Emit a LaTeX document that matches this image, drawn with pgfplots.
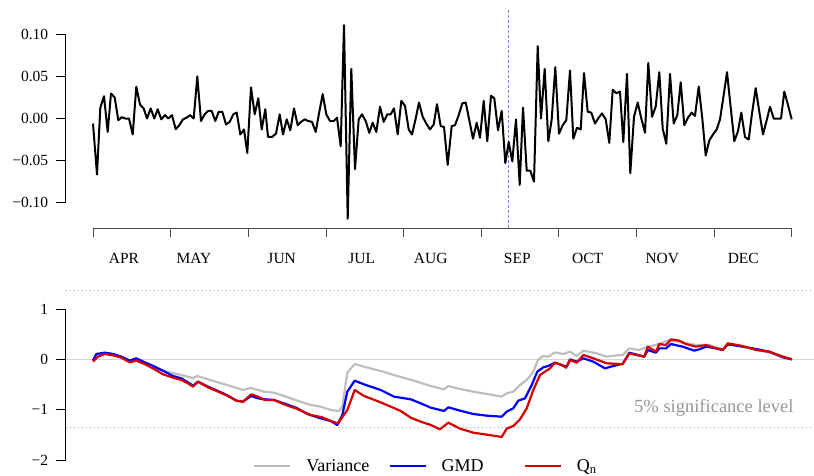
\documentclass[border=0pt]{standalone}
\usepackage{fontspec}
\setmainfont{Liberation Serif}
\usepackage{pgfplots}
\pgfplotsset{compat=1.18}
\definecolor{vargray}{RGB}{190,190,190}
\definecolor{gmdblue}{RGB}{0,0,255}
\definecolor{qnred}{RGB}{215,0,0}
\definecolor{vlinecol}{RGB}{125,125,235}
\definecolor{zerogray}{RGB}{211,211,211}
\definecolor{dotgray}{RGB}{165,165,165}
\definecolor{txtgray}{RGB}{150,150,150}
\begin{document}
\begin{tikzpicture}[x=1pt,y=1pt]
\useasboundingbox (0,0) rectangle (814,475);
% ---------------- top panel ----------------
\begin{axis}[
  at={(65.7pt,272.3pt)}, anchor=south west,
  scale only axis, width=748.3pt, height=168.4pt,
  xmin=65.7, xmax=814, ymin=-0.1, ymax=0.1,
  axis x line=none, axis y line*=left,
  axis line style={-, black, line width=0.9pt},
  clip=false,
  ytick={-0.1,-0.05,0,0.05,0.1},
  yticklabels={−0.10,−0.05,0.00,0.05,0.10},
  tick align=outside, major tick length=10pt,
  tick style={black, line width=0.9pt},
  yticklabel style={font=\fontsize{15.5}{17}\selectfont, anchor=east, xshift=-4pt},
]
\addplot[vlinecol, line width=1pt, dash pattern=on 2.5pt off 2.5pt] coordinates {(508.3,0.1286) (508.3,-0.1303)};
\addplot[black, line width=2pt, line join=round] coordinates {
(93,-0.006) (97,-0.0665) (100.3,0.0126) (104,0.0265) (107.7,-0.016) (111,0.0297) (114.7,0.025) (118.3,-0.002)
(121.7,0.0015) (125.3,0.000) (129,0.000) (132.7,-0.019) (136.3,0.0376) (140,0.0166) (143.7,0.0119) (147,0)
(150.7,0.012) (154.3,0) (157.7,0.011) (161.3,-0.001) (165,0.004) (168.3,0) (172,0.004) (175.7,-0.0127)
(179.3,-0.008) (183,-0.001) (186.7,0.001) (190,0.004) (193.7,0) (197.3,0.050) (201,-0.003) (204.7,0.005)
(208,0.009) (211.7,0.009) (215.3,-0.003) (218.7,0.008) (222.3,0.008) (226,-0.007) (229.7,-0.004) (233.3,0.005)
(236.7,0.007) (240.3,-0.019) (244,-0.013) (247.3,-0.041) (251,0.037) (254.7,0.005) (258.3,0.024) (261.7,-0.013)
(265.3,0.011) (268,-0.0218) (272,-0.022) (276,-0.018) (279.7,0.005) (283,-0.019) (286.7,-0.001) (290.3,-0.014)
(294,0.012) (297.7,-0.008) (301,-0.004) (304.7,-0.001) (308.3,-0.003) (312,-0.004) (315.7,-0.016) (319,0.006)
(322.7,0.029) (326.3,0.005) (330,-0.003) (333.7,-0.003) (337,0.001) (340.7,-0.033) (344,0.111) (347.7,-0.119)
(351.3,0.059) (355,-0.060) (358.7,-0.001) (362,0.005) (365.7,-0.003) (369.3,-0.017) (372.7,-0.005) (376.3,-0.016)
(380,0.014) (383.7,-0.004) (387.3,0.005) (390.7,0.005) (394,0.012) (397.7,-0.019) (401.3,0.021) (405,0.015)
(408.7,-0.013) (412,-0.019) (415.7,0.000) (419,0.019) (422.7,0.002) (426.3,-0.006) (430,-0.013) (433.7,-0.007)
(437,0.017) (440.7,-0.009) (444,-0.010) (447.7,-0.055) (451.7,-0.009) (455,-0.008) (458.7,0.004) (462.3,0.018)
(465.7,0.019) (469.3,-0.002) (473,-0.024) (476.7,-0.005) (480,-0.023) (483.7,0.021) (487.3,-0.027) (491,0.027)
(494.3,0.024) (498,-0.014) (501.7,0.009) (505.3,-0.053) (508.7,-0.028) (512.3,-0.051) (516,-0.001) (519.7,-0.079)
(523,0.013) (526.7,-0.062) (530.3,-0.062) (534,-0.075) (537.7,0.086) (541,0.000) (544.7,0.059) (548.3,-0.027)
(551.7,-0.001) (555.3,0.061) (559,-0.018) (562.7,-0.008) (566.3,-0.002) (570,0.057) (573.3,-0.024) (577,-0.011)
(580.7,-0.013) (584,0.054) (587.7,0.008) (591.3,0.007) (595,-0.006) (598.7,0.001) (602,0.006) (605.7,-0.001)
(609.3,-0.029) (612.7,0.034) (616.3,0.030) (620,0.032) (623.3,-0.028) (627,0.053) (630.3,-0.065) (634,0.002)
(637.7,0.019) (641.3,0.000) (645,-0.017) (648.3,0.066) (652,0.002) (655.7,0.014) (659.3,0.055) (662.7,-0.012)
(666.3,-0.030) (670,0.053) (673.7,-0.006) (677.3,0.004) (680.7,0.043) (684.3,-0.008) (688,0.001) (691.7,0.007)
(695,0.003) (698.7,0.038) (702.3,0.000) (705.7,-0.044) (709.3,-0.026) (713,-0.019) (716.7,-0.013) (720,-0.001)
(723.7,0.028) (727,0.055) (730.7,0.013) (734.3,-0.027) (738,-0.015) (741.3,0.007) (745,-0.022) (748.7,-0.025)
(752,0.006) (755.7,0.036) (759.3,0.008) (763,-0.019) (766.7,-0.002) (770,0.014) (773.7,0.000) (777.3,0)
(781,0) (784.3,0.032) (788,0.016) (791.7,-0.001)
};
% detached time axis
\draw[black!70, line width=0.9pt] (axis cs:93,-0.1303) -- (axis cs:791.9,-0.1303);
\draw[black!70, line width=0.9pt]
 (axis cs:93,-0.1303) -- (axis cs:93,-0.1410)
 (axis cs:170.7,-0.1303) -- (axis cs:170.7,-0.1410)
 (axis cs:248.3,-0.1303) -- (axis cs:248.3,-0.1410)
 (axis cs:326,-0.1303) -- (axis cs:326,-0.1410)
 (axis cs:403.6,-0.1303) -- (axis cs:403.6,-0.1410)
 (axis cs:481.3,-0.1303) -- (axis cs:481.3,-0.1410)
 (axis cs:558.9,-0.1303) -- (axis cs:558.9,-0.1410)
 (axis cs:636.6,-0.1303) -- (axis cs:636.6,-0.1410)
 (axis cs:714.2,-0.1303) -- (axis cs:714.2,-0.1410)
 (axis cs:791.9,-0.1303) -- (axis cs:791.9,-0.1410);
\begin{scope}[every node/.style={font=\fontsize{15.5}{17}\selectfont}]
\node at (axis cs:124,-0.1659) {APR};
\node at (axis cs:194,-0.1659) {MAY};
\node at (axis cs:281.7,-0.1659) {JUN};
\node at (axis cs:361.7,-0.1659) {JUL};
\node at (axis cs:430.7,-0.1659) {AUG};
\node at (axis cs:517.3,-0.1659) {SEP};
\node at (axis cs:587.7,-0.1659) {OCT};
\node at (axis cs:662.3,-0.1659) {NOV};
\node at (axis cs:743.3,-0.1659) {DEC};
\end{scope}
\end{axis}
% ---------------- bottom panel ----------------
\begin{axis}[
  at={(65.7pt,15pt)}, anchor=south west,
  scale only axis, width=748.3pt, height=151pt,
  xmin=65.7, xmax=814, ymin=-2, ymax=1,
  axis x line=none, axis y line*=left,
  axis line style={-, black, line width=0.9pt},
  clip=false,
  ytick={-2,-1,0,1},
  yticklabels={−2,−1,0,1},
  tick align=outside, major tick length=10pt,
  tick style={black, line width=0.9pt},
  yticklabel style={font=\fontsize{15.5}{17}\selectfont, anchor=east, xshift=-4pt},
  legend columns=3,
  legend style={at={(axis cs:253,-2.12)}, anchor=west, draw=none, fill=none,
    font=\fontsize{18}{20}\selectfont, inner sep=0pt,
    /tikz/every odd column/.append style={column sep=13pt},
    /tikz/every even column/.append style={column sep=17pt}},
  legend image code/.code={\draw[#1] (0pt,0pt) -- (36pt,0pt);},
]
\addplot[zerogray, line width=1pt, forget plot] coordinates {(65.7,0) (814,0)};
\addplot[dotgray, line width=0.9pt, dash pattern=on 1pt off 3pt, forget plot] coordinates {(65.7,1.363) (814,1.363)};
\addplot[dotgray, line width=0.9pt, dash pattern=on 1pt off 3pt, forget plot] coordinates {(65.7,-1.363) (814,-1.363)};
% Variance
\addplot[vargray, line width=2.2pt, line join=round] coordinates {
(93,-0.026) (96.3,0.106) (104.7,0.132) (113,0.106) (121.3,0.053) (129.7,-0.026) (136.3,0.020) (144.7,-0.060)
(154.7,-0.146) (158,-0.19) (168,-0.252) (181.3,-0.311) (193,-0.371) (197.3,-0.331) (208,-0.397) (221.3,-0.477)
(234.7,-0.556) (243,-0.609) (250.3,-0.569) (258,-0.609) (264,-0.642) (274,-0.662) (284,-0.728) (297.3,-0.821)
(310.7,-0.907) (320.7,-0.940) (330.7,-1.006) (339,-1.026) (342.3,-0.940) (347.3,-0.265) (354.7,-0.093) (364,-0.146)
(380.7,-0.232) (397.3,-0.331) (414,-0.424) (430.7,-0.530) (444,-0.596) (448.3,-0.530) (460,-0.589) (473.3,-0.642)
(486.7,-0.688) (501.7,-0.741) (506.7,-0.675) (513.3,-0.642) (520,-0.510) (526.7,-0.410) (533.3,-0.245) (538.3,0.000)
(543.3,0.066) (548.3,0.053) (555,0.139) (563.3,0.106) (570,0.152) (576.7,0.066) (583.3,0.172) (596.7,0.119)
(606.7,0.053) (620,0.086) (622.7,0.086) (629.3,0.218) (639.3,0.185) (647.7,0.252) (656,0.285) (669.3,0.384)
(682.7,0.331) (696,0.285) (709.3,0.285) (722.7,0.199) (729.3,0.304) (742.7,0.252) (756,0.199) (769.3,0.132)
(782.7,0.066) (792,0.0)
};
\addlegendentry{\makebox[63pt][l]{Variance}}
% GMD
\addplot[gmdblue, line width=2.2pt, line join=round] coordinates {
(93,-0.026) (96.3,0.106) (104.7,0.132) (113,0.106) (121.3,0.053) (129.7,-0.026) (136.3,0.020) (144.7,-0.060)
(154.7,-0.146) (164.7,-0.245) (173,-0.331) (181.3,-0.377) (188,-0.457) (193,-0.523) (198,-0.444) (208,-0.543)
(218,-0.629) (228,-0.722) (236.3,-0.821) (243,-0.841) (251.3,-0.728) (258,-0.775) (264.7,-0.794) (274,-0.808)
(284,-0.874) (297.3,-0.973) (307.3,-1.086) (320.7,-1.172) (330.7,-1.225) (337.3,-1.304) (342.3,-1.106) (347.3,-0.642)
(354.7,-0.424) (364,-0.497) (380.7,-0.609) (394,-0.741) (410.7,-0.794) (420.7,-0.874) (430.7,-0.960) (444,-1.026)
(448.3,-0.953) (460,-1.019) (473.3,-1.086) (486.7,-1.119) (501.7,-1.139) (506.7,-1.039) (513.3,-0.973) (518.3,-0.821)
(525,-0.775) (531.7,-0.510) (537.3,-0.245) (543.3,-0.159) (548.3,-0.132) (555,-0.066) (561.7,-0.113) (566.7,-0.146)
(570,0.000) (576.7,-0.046) (583.3,0.020) (593.3,-0.046) (605,-0.179) (613.3,-0.132) (620,-0.099) (622.7,-0.093)
(629.3,0.132) (644.3,0.053) (647.7,0.185) (656,0.132) (659.3,0.218) (666,0.218) (671,0.304) (682.7,0.252)
(694.3,0.172) (699.3,0.199) (706,0.252) (716,0.218) (722.7,0.185) (727.7,0.298) (742.7,0.252) (756,0.205)
(769.3,0.152) (782.7,0.040) (792,0.0)
};
\addlegendentry{\makebox[63pt][l]{GMD}}
% Qn
\addplot[qnred, line width=2.2pt, line join=round] coordinates {
(93,-0.046) (98,0.053) (104.7,0.106) (113,0.079) (121.3,0.033) (129.7,-0.060) (136.3,-0.026) (144.7,-0.093)
(154.7,-0.199) (163,-0.298) (173,-0.364) (181.3,-0.410) (188,-0.477) (193,-0.543) (198,-0.444) (208,-0.556)
(218,-0.642) (228,-0.728) (236.3,-0.821) (243,-0.841) (251.3,-0.695) (258,-0.741) (264.7,-0.808) (274,-0.808)
(284,-0.894) (297.3,-0.986) (310.7,-1.106) (322.3,-1.152) (330.7,-1.225) (338,-1.271) (347.3,-1.006) (354.7,-0.609)
(364,-0.728) (377.3,-0.828) (390.7,-0.940) (400.7,-1.026) (410.7,-1.159) (420.7,-1.238) (430.7,-1.304) (440,-1.390)
(448.3,-1.258) (460,-1.377) (473.3,-1.457) (486.7,-1.496) (501.7,-1.542) (506.7,-1.377) (513.3,-1.324) (520,-1.192)
(526.7,-0.973) (533.3,-0.609) (540,-0.311) (545,-0.245) (550,-0.179) (555,-0.066) (561.7,-0.113) (566,-0.166)
(570,-0.013) (576.7,-0.066) (583.3,0.086) (593.3,0.020) (606.7,-0.079) (620,-0.093) (622.7,-0.093) (629.3,0.119)
(644.3,0.053) (647.7,0.252) (656,0.152) (659.3,0.304) (666,0.285) (671,0.397) (679.3,0.371) (686,0.304)
(696,0.252) (706,0.285) (716,0.218) (722.7,0.185) (727.7,0.318) (742.7,0.265) (756,0.185) (769.3,0.152)
(782.7,0.053) (792,0.0)
};
\addlegendentry{\makebox[63pt][l]{Q\textsubscript{n}}}
\node[txtgray, font=\fontsize{18.5}{20}\selectfont, anchor=east] at (axis cs:797,-0.968) {5\% significance level};
\end{axis}
\end{tikzpicture}
\end{document}
